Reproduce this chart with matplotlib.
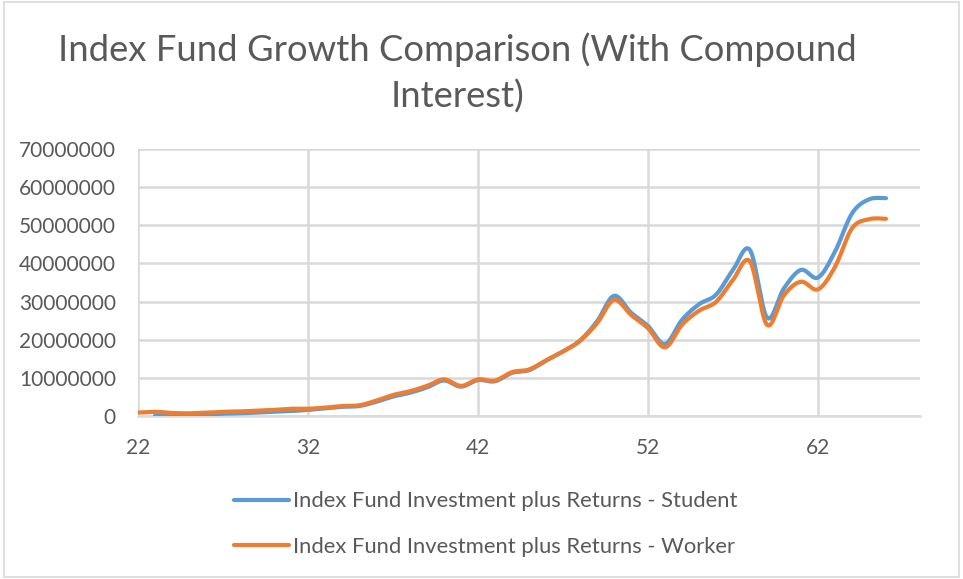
import matplotlib
matplotlib.use("Agg")
import matplotlib.pyplot as plt
import numpy as np
from matplotlib.patches import Rectangle

# ── Data (values in currency units) ──────────────────────────────────────────
worker_age = list(range(22, 67))
worker_val = [0.9, 1.1, 0.8, 0.7, 0.9, 1.1, 1.2, 1.4, 1.6, 1.9,
              1.9, 2.2, 2.6, 2.8, 4.0, 5.5, 6.5, 7.9, 9.6, 7.9,
              9.6, 9.3, 11.5, 12.2, 14.6, 16.9, 19.7, 24.3, 30.4, 26.5,
              23.0, 18.0, 23.9, 27.6, 29.9, 35.7, 40.5, 23.9, 31.7, 35.2,
              33.2, 39.1, 49.2, 51.6, 51.7]

student_age = list(range(23, 67))
student_val = [0.1, 0.2, 0.3, 0.4, 0.6, 0.7, 0.9, 1.1, 1.3,
               1.6, 2.0, 2.4, 2.6, 3.7, 5.1, 6.1, 7.5, 9.3, 7.7,
               9.4, 9.1, 11.3, 12.0, 14.5, 16.9, 19.8, 24.8, 31.5, 27.1,
               23.6, 18.9, 25.2, 29.3, 31.8, 38.3, 43.5, 25.8, 33.5, 38.3,
               36.3, 43.1, 53.1, 56.8, 57.1]

x_ticks = [22, 32, 42, 52, 62]
y_ticks = list(range(0, 70000001, 10000000))

TITLE = "Index Fund Growth Comparison (With Compound\nInterest)"
LABEL_STUDENT = "Index Fund Investment plus Returns - Student"
LABEL_WORKER = "Index Fund Investment plus Returns - Worker"

BLUE = "#5b9bd5"
ORANGE = "#ed7d31"
TEXT = "#595959"
GRID = "#d9d9d9"


def smooth(xs, ys, n=20):
    """Catmull-Rom style smoothing, like a spreadsheet 'smoothed line'."""
    xs = np.asarray(xs, float)
    ys = np.asarray(ys, float)
    px = np.concatenate([[xs[0]], xs, [xs[-1]]])
    py = np.concatenate([[ys[0]], ys, [ys[-1]]])
    out_x, out_y = [], []
    t = np.linspace(0, 1, n, endpoint=False)
    for i in range(1, len(px) - 2):
        p0x, p1x, p2x, p3x = px[i - 1:i + 3]
        p0y, p1y, p2y, p3y = py[i - 1:i + 3]
        c1x, c1y = p1x + (p2x - p0x) / 6, p1y + (p2y - p0y) / 6
        c2x, c2y = p2x - (p3x - p1x) / 6, p2y - (p3y - p1y) / 6
        bx = (1 - t) ** 3 * p1x + 3 * (1 - t) ** 2 * t * c1x + 3 * (1 - t) * t ** 2 * c2x + t ** 3 * p2x
        by = (1 - t) ** 3 * p1y + 3 * (1 - t) ** 2 * t * c1y + 3 * (1 - t) * t ** 2 * c2y + t ** 3 * p2y
        out_x.extend(bx)
        out_y.extend(by)
    out_x.append(xs[-1])
    out_y.append(ys[-1])
    return np.array(out_x), np.array(out_y)


plt.rcParams["font.family"] = ["Lato", "DejaVu Sans"]

fig = plt.figure(figsize=(9.63, 5.79), dpi=100)
fig.patches.append(Rectangle((0.004, 0.004), 0.992, 0.992, transform=fig.transFigure,
                             fill=False, edgecolor=GRID, linewidth=1.2))

ax = fig.add_axes([138 / 963, 1 - 416 / 579, (920 - 138) / 963, (416 - 149) / 579])

sx, sy = smooth(student_age, np.array(student_val) * 1e6)
wx, wy = smooth(worker_age, np.array(worker_val) * 1e6)
ax.plot(sx, sy, color=BLUE, linewidth=3, solid_capstyle="round", label=LABEL_STUDENT, zorder=3)
ax.plot(wx, wy, color=ORANGE, linewidth=3, solid_capstyle="round", label=LABEL_WORKER, zorder=4)

ax.set_xlim(22, 68)
ax.set_ylim(0, 70000000)
ax.set_xticks(x_ticks)
ax.set_yticks(y_ticks)
ax.set_yticklabels([str(v) for v in y_ticks])
ax.tick_params(length=0, labelsize=15, colors=TEXT)
ax.tick_params(axis="y", pad=16)
ax.tick_params(axis="x", pad=16)
ax.grid(True, color=GRID, linewidth=1.8)
ax.set_axisbelow(True)
for side in ["top", "right", "left"]:
    ax.spines[side].set_visible(False)
ax.spines["bottom"].set_color(GRID)
ax.spines["bottom"].set_linewidth(1.8)

fig.text(457 / 963, 1 - 73 / 579, TITLE, ha="center", va="center", fontsize=26.2,
         color=TEXT, linespacing=1.45)

fig.legend(loc="center", bbox_to_anchor=(486 / 963, 1 - 524 / 579), ncol=1, frameon=False,
           fontsize=15.8, labelcolor=TEXT, handlelength=2.5, handletextpad=0.2,
           labelspacing=1.15)

fig.savefig("out.png", dpi=100)
